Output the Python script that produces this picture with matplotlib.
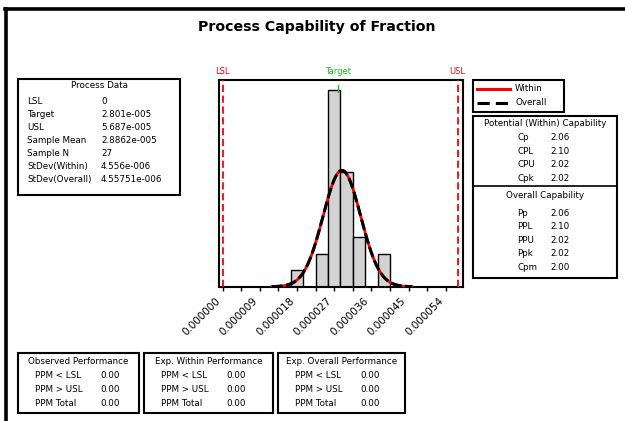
import numpy as np
import matplotlib
matplotlib.use('Agg')
from matplotlib import pyplot as plt
from matplotlib.patches import Rectangle
from matplotlib.lines import Line2D
import matplotlib.transforms as mtrans

# histogram data (bin centres and counts)
bin_centers = [18e-6, 21e-6, 24e-6, 27e-6, 30e-6, 33e-6, 36e-6, 39e-6]
counts = [1, 0, 2, 12, 7, 3, 0, 2]
bin_width = 3e-6

# specs and statistics
lsl = 0.0
target = 2.801e-5
usl = 5.687e-5
mean = 2.8862e-5
n = 27
sd_within = 4.556e-6
sd_overall = 4.55751e-6

tick_vals = [0, 9e-6, 18e-6, 27e-6, 36e-6, 45e-6, 54e-6]
tick_labels = ['0.000000', '0.000009', '0.000018', '0.000027',
               '0.000036', '0.000045', '0.000054']

process_labels = ['LSL', 'Target', 'USL', 'Sample Mean', 'Sample N',
                  'StDev(Within)', 'StDev(Overall)']
process_values = ['0', '2.801e-005', '5.687e-005', '2.8862e-005', '27',
                  '4.556e-006', '4.55751e-006']

within_labels = ['Cp', 'CPL', 'CPU', 'Cpk']
within_values = ['2.06', '2.10', '2.02', '2.02']
overall_labels = ['Pp', 'PPL', 'PPU', 'Ppk', 'Cpm']
overall_values = ['2.06', '2.10', '2.02', '2.02', '2.00']

perf_titles = ['Observed Performance', 'Exp. Within Performance',
               'Exp. Overall Performance']
perf_labels = ['PPM < LSL', 'PPM > USL', 'PPM Total']
perf_values = [['0.00', '0.00', '0.00'],
               ['0.00', '0.00', '0.00'],
               ['0.00', '0.00', '0.00']]

W, H = 625, 421
FS = 6.3
fig = plt.figure(figsize=(W / 100, H / 100), dpi=100)


def fx(x):
    return x / W


def fy(y):
    return 1 - y / H


def box(x0, y0, x1, y1, lw=1.5):
    fig.add_artist(Rectangle((fx(x0), fy(y1)), fx(x1) - fx(x0), fy(y0) - fy(y1),
                             transform=fig.transFigure, fill=False,
                             edgecolor='black', lw=lw))


def txt(x, y, s, ha='left', **kw):
    fig.text(fx(x), fy(y), s, ha=ha, va='center', fontsize=FS, **kw)


# outer frame
fig.add_artist(Line2D([fx(6), fx(6)], [fy(8.5), 0], transform=fig.transFigure,
                      color='black', lw=2.6))
fig.add_artist(Line2D([fx(4.5), 1], [fy(8.5), fy(8.5)], transform=fig.transFigure,
                      color='black', lw=2.6))

fig.text(fx(317), fy(27), 'Process Capability of Fraction', ha='center',
         va='center', fontsize=10.2, fontweight='bold')

# main histogram axes
ax = fig.add_axes([fx(219), fy(286.7), fx(463) - fx(219), fy(80) - fy(286.7)])
dens = np.array(counts) / (n * bin_width)
ax.bar(bin_centers, dens, width=bin_width, color='#d3d3d3', edgecolor='black',
       lw=1.0, zorder=2)

xs = np.linspace(mean - 3.72 * sd_within, mean + 3.72 * sd_within, 300)
pdf_w = np.exp(-0.5 * ((xs - mean) / sd_within) ** 2) / (sd_within * np.sqrt(2 * np.pi))
pdf_o = np.exp(-0.5 * ((xs - mean) / sd_overall) ** 2) / (sd_overall * np.sqrt(2 * np.pi))
ax.plot(xs, pdf_w, color='red', lw=2.0, zorder=3)
ax.plot(xs, pdf_o, color='black', lw=2.2, dashes=(3.5, 1.2), zorder=4)

ax.axvline(lsl, color='red', lw=1.3, dashes=(4, 2), zorder=5)
ax.axvline(usl, color='red', lw=1.3, dashes=(4, 2), zorder=5)
ax.plot([target, target], [0.943, 0.976], color='#22bb22', lw=1.0,
        transform=ax.get_xaxis_transform(), zorder=5)

ax.set_xlim(-0.9e-6, 5.82e-5)
ax.set_ylim(0, 12.6 / (n * bin_width))
ax.set_yticks([])
ax.set_xticks(tick_vals)
ax.set_xticks(np.arange(0, 5.5e-5, 4.5e-6), minor=True)
ax.set_xticklabels(tick_labels, rotation=45, ha='right', va='center',
                   rotation_mode='anchor', fontsize=7.5)
ax.tick_params(axis='x', which='both', direction='out', length=3, width=1, pad=6)
shift = mtrans.ScaledTranslation(-3 / 72, 0, fig.dpi_scale_trans)
for lab in ax.get_xticklabels():
    lab.set_transform(lab.get_transform() + shift)
for s in ax.spines.values():
    s.set_linewidth(1.5)

blend = mtrans.blended_transform_factory(ax.transData, fig.transFigure)
for v, s, c in [(lsl, 'LSL', 'red'), (target, 'Target', '#22bb22'), (usl, 'USL', 'red')]:
    ax.text(v, fy(71), s, color=c, fontsize=6, ha='center', va='center',
            transform=blend)

# process data box
box(18, 79, 180, 195)
txt(99, 86, 'Process Data', ha='center')
for i, (lab, val) in enumerate(zip(process_labels, process_values)):
    txt(27, 101.7 + 13 * i, lab)
    txt(101, 101.7 + 13 * i, val)

# legend box
box(473, 80, 564, 112)
fig.add_artist(Line2D([fx(477), fx(510)], [fy(88.5), fy(88.5)],
                      transform=fig.transFigure, color='red', lw=2.2))
fig.add_artist(Line2D([fx(477), fx(510)], [fy(102.5), fy(102.5)],
                      transform=fig.transFigure, color='black', lw=2.2, dashes=(4, 2)))
txt(515, 88.5, 'Within')
txt(515, 102.5, 'Overall')

# capability box
box(473, 116, 617, 278)
fig.add_artist(Line2D([fx(473), fx(617)], [fy(186), fy(186)],
                      transform=fig.transFigure, color='black', lw=1.2))
txt(545, 123.5, 'Potential (Within) Capability', ha='center')
for i, (lab, val) in enumerate(zip(within_labels, within_values)):
    txt(517, 137.5 + 13.6 * i, lab)
    txt(550, 137.5 + 13.6 * i, val)
txt(545, 195, 'Overall Capability', ha='center')
for i, (lab, val) in enumerate(zip(overall_labels, overall_values)):
    txt(517, 213 + 13.6 * i, lab)
    txt(550, 213 + 13.6 * i, val)

# performance boxes
box_x = [(18, 139), (144, 273), (278, 405)]
for (x0, x1), title, vals in zip(box_x, perf_titles, perf_values):
    box(x0, 353, x1, 413)
    txt((x0 + x1) / 2, 362, title, ha='center')
    for i, (lab, val) in enumerate(zip(perf_labels, vals)):
        txt(x0 + 17, 376 + 13.6 * i, lab)
        txt(x0 + 82, 376 + 13.6 * i, val)

fig.savefig('out.png', dpi=100)
